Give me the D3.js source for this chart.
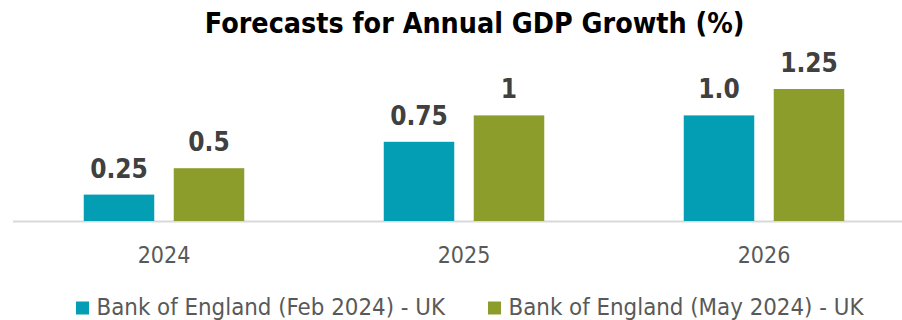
<!DOCTYPE html>
<html>
<head>
<meta charset="utf-8">
<script src="https://cdn.jsdelivr.net/npm/d3@7/dist/d3.min.js"></script>
<style>
  html, body { margin: 0; padding: 0; background: #fff; }
  svg { display: block; }
  .ttl { font-family: "DejaVu Sans Condensed", "DejaVu Sans", sans-serif; font-weight: bold; }
  .txt { font-family: "DejaVu Sans Condensed", "DejaVu Sans", sans-serif; }
</style>
</head>
<body>
<svg id="chart" width="902" height="320"></svg>
<script>
const years = ["2024", "2025", "2026"];
const seriesNames = ["Bank of England (Feb 2024) - UK", "Bank of England (May 2024) - UK"];
const febValues = [0.25, 0.75, 1.0];
const mayValues = [0.5, 1, 1.25];
const febLabels = ["0.25", "0.75", "1.0"];
const mayLabels = ["0.5", "1", "1.25"];
const colors = ["#039DB4", "#8D9D2B"];

const W = 902, H = 320;
const baseY = 221;
const svg = d3.select("#chart");

const groupW = 160.5;
const x0 = d3.scaleBand().domain(years).range([14, 914]);
const x1 = d3.scaleBand().domain([0, 1]).range([0, groupW]).paddingInner(19.5 / 90);
const y = d3.scaleLinear().domain([0, 1.25]).range([baseY, 89]);

// title
svg.append("text").attr("class", "ttl")
  .attr("x", 474.7).attr("y", 33)
  .attr("text-anchor", "middle")
  .attr("font-size", 28.4).attr("fill", "#000")
  .text("Forecasts for Annual GDP Growth (%)");

// axis line
svg.append("line")
  .attr("x1", 13).attr("x2", W)
  .attr("y1", baseY + 0.5).attr("y2", baseY + 0.5)
  .attr("stroke", "#d9d9d9").attr("stroke-width", 2);

const series = [
  { values: febValues, labels: febLabels },
  { values: mayValues, labels: mayLabels }
];

const groups = svg.selectAll("g.year").data(years).join("g")
  .attr("class", "year")
  .attr("transform", d => `translate(${x0(d) + x0.bandwidth() / 2 - groupW / 2},0)`);

series.forEach((s, si) => {
  groups.append("rect")
    .attr("x", x1(si))
    .attr("width", x1.bandwidth())
    .attr("y", (d, i) => y(s.values[i]))
    .attr("height", (d, i) => baseY - y(s.values[i]))
    .attr("fill", colors[si]);
  groups.append("text").attr("class", "ttl")
    .attr("x", x1(si) + x1.bandwidth() / 2)
    .attr("y", (d, i) => y(s.values[i]) - 17)
    .attr("text-anchor", "middle")
    .attr("font-size", 26).attr("fill", "#404040")
    .text((d, i) => s.labels[i]);
});

// category axis labels
const xAxis = d3.axisBottom(x0).tickSize(0).tickPadding(0);
const gx = svg.append("g").attr("transform", `translate(0,${baseY})`).call(xAxis);
gx.select(".domain").remove();
gx.selectAll("text").attr("class", "txt")
  .attr("dy", null).attr("y", 42)
  .attr("font-size", 23).attr("fill", "#595959");

// legend
const legX = [76, 488];
seriesNames.forEach((name, i) => {
  svg.append("rect").attr("x", legX[i]).attr("y", 301.5)
    .attr("width", 13).attr("height", 13).attr("fill", colors[i]);
  svg.append("text").attr("class", "txt")
    .attr("x", legX[i] + 20.5).attr("y", 315)
    .attr("font-size", 23.8).attr("fill", "#595959")
    .text(name);
});
</script>
</body>
</html>
